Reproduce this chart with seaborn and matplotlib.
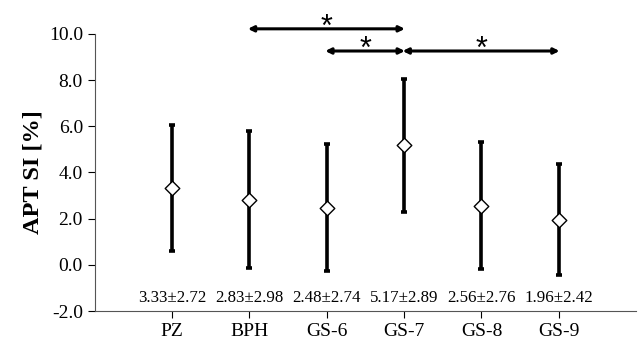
import numpy as np
import pandas as pd
import matplotlib
matplotlib.use("Agg")
import matplotlib.pyplot as plt
import seaborn as sns

# --- datos ---
groups = ["PZ", "BPH", "GS-6", "GS-7", "GS-8", "GS-9"]
means = [3.33, 2.83, 2.48, 5.17, 2.56, 1.96]
sds = [2.72, 2.98, 2.74, 2.89, 2.76, 2.42]
# comparaciones significativas (indice inicio, indice fin, altura)
pairs = [(1, 3, 10.22), (2, 3, 9.26), (3, 5, 9.26)]

df = pd.DataFrame({"grupo": groups, "media": means, "sd": sds})
df["pos"] = np.arange(len(groups))

sns.set_style("ticks")
plt.rcParams["font.family"] = ["Liberation Serif", "DejaVu Serif"]
plt.rcParams["text.color"] = "black"
plt.rcParams["axes.labelcolor"] = "black"

fig, ax = plt.subplots(figsize=(6.4, 3.46), dpi=100)
fig.subplots_adjust(left=0.148, right=0.994, top=0.902, bottom=0.101)

# barras de error (media +- sd)
ax.errorbar(df["pos"], df["media"], yerr=df["sd"], fmt="none", ecolor="black",
            elinewidth=2.6, capsize=2, capthick=2.6, zorder=1)
sns.scatterplot(data=df, x="pos", y="media", marker="D", s=55, color="white",
                edgecolor="black", linewidth=1.0, ax=ax, zorder=3)

# texto media +- sd
for p, m, s in zip(df["pos"], means, sds):
    ax.text(p, -1.43, f"{m:.2f}\u00b1{s:.2f}", ha="center", va="center", fontsize=12.2)

# flechas de significancia
for a, b, h in pairs:
    ax.annotate("", xy=(a - 0.02, h), xytext=(b + 0.01, h),
                arrowprops=dict(arrowstyle="<|-|>", color="black", lw=2.2,
                                mutation_scale=8, shrinkA=0, shrinkB=0),
                annotation_clip=False)
    ax.text((a + b) / 2, h - 0.6, "*", ha="center", va="bottom", fontsize=22,
            family=["Liberation Sans", "DejaVu Sans"], clip_on=False)

ax.set_xlim(-1, 6)
ax.set_ylim(-2, 10)
ax.set_yticks(np.arange(-2, 10.1, 2))
ax.set_yticklabels([f"{v:.1f}" for v in np.arange(-2, 10.1, 2)])
ax.set_xticks(df["pos"])
ax.set_xticklabels(groups)
ax.tick_params(axis="both", labelsize=14, length=5, width=0.8, colors="black")
ax.set_xlabel("")
ax.set_ylabel("APT SI [%]", fontsize=17.5, fontweight="bold", labelpad=4)
for side in ["left", "bottom"]:
    ax.spines[side].set_linewidth(0.8)
    ax.spines[side].set_color("#555555")
sns.despine(ax=ax)

fig.savefig("out.png", dpi=100)
